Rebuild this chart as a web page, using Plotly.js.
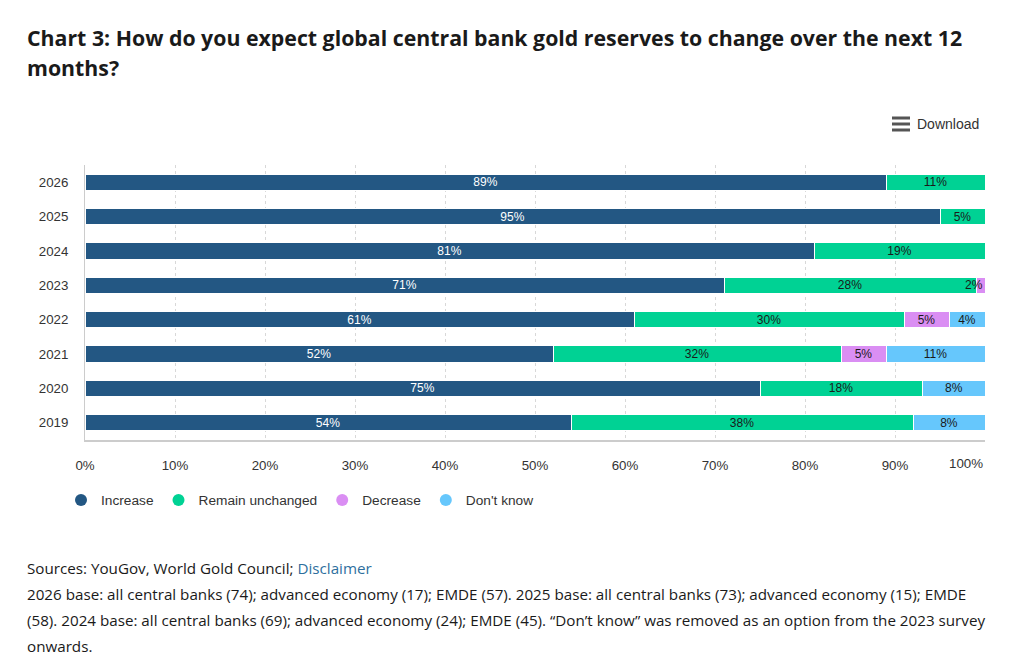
<!DOCTYPE html>
<html>
<head>
<meta charset="utf-8">
<script src="https://cdn.plot.ly/plotly-3.0.1.min.js"></script>
<style>
  html, body { margin: 0; padding: 0; background: #ffffff; }
  #chart { width: 1024px; height: 671px; }
</style>
</head>
<body>
<div id="chart"></div>
<script>
// ---- data ----
const years = ['2019', '2020', '2021', '2022', '2023', '2024', '2025', '2026'];
const increase = [54, 75, 52, 61, 71, 81, 95, 89];
const unchanged = [38, 18, 32, 30, 28, 19, 5, 11];
const decrease = [null, null, 5, 5, 2, null, null, null];
const dontKnow = [8, 8, 11, 4, null, null, null, null];
const seriesNames = ['Increase', 'Remain unchanged', 'Decrease', "Don't know"];
const seriesColors = ['#235783', '#00d294', '#da8ef3', '#66c7fc'];
const textColors = ['#ffffff', '#1a1a1a', '#1a1a1a', '#1a1a1a'];
const xTickVals = [0, 10, 20, 30, 40, 50, 60, 70, 80, 90, 100];
const xTickText = ['0%', '10%', '20%', '30%', '40%', '50%', '60%', '70%', '80%', '90%', '100%'];
const xMax = 100;

// ---- layout helpers (pixel -> paper) ----
const W = 1024, H = 671;
const M = { l: 85, r: 39, t: 165, b: 231 };
const PW = W - M.l - M.r, PH = H - M.t - M.b;
const px = x => (x - M.l) / PW;
const py = y => (H - M.b - y) / PH;

const labelFont = c => ({ family: 'Liberation Sans, Arial, sans-serif', size: 12, color: c });
const ann = [];
const allSeries = [increase, unchanged, decrease, dontKnow];
const running = years.map(() => 0);
const traces = allSeries.map((vals, i) => {
  const texts = vals.map((v, j) => {
    const start = running[j];
    const end = start + (v || 0);
    running[j] = end;
    if (!v) return '';
    if (end > xMax) {
      // segment is cut at the axis end: label the visible part
      const visEnd = Math.min(end, xMax);
      const narrow = (visEnd - start) < 3;
      ann.push({ xref: 'x', yref: 'y', x: narrow ? visEnd : (start + visEnd) / 2, y: j,
        xanchor: narrow ? 'right' : 'center', yanchor: 'middle', showarrow: false,
        text: v + '%', font: labelFont(textColors[i]) });
      return '';
    }
    return v + '%';
  });
  return {
    type: 'bar',
    orientation: 'h',
    y: years,
    x: vals,
    name: seriesNames[i],
    showlegend: false,
    marker: { color: seriesColors[i], line: { color: '#ffffff', width: 1 } },
    text: texts,
    textposition: 'inside',
    insidetextanchor: 'middle',
    textangle: 0,
    constraintext: 'none',
    textfont: labelFont(textColors[i]),
    hoverinfo: 'skip'
  };
});

// legend-only entries with round markers
seriesNames.forEach((n, i) => {
  traces.push({
    type: 'scatter', mode: 'markers', x: [null], y: [null], name: n,
    marker: { color: seriesColors[i], size: 12, symbol: 'circle' },
    showlegend: true, hoverinfo: 'skip'
  });
});

const titleFont = { family: 'Open Sans, sans-serif', size: 21.3, color: '#1a1a1a', weight: 700 };
ann.push({ xref: 'paper', yref: 'paper', x: px(25), y: py(38), xanchor: 'left', yanchor: 'middle', showarrow: false,
  text: '<b>Chart 3: How do you expect global central bank gold reserves to change over the next 12</b>', font: titleFont });
ann.push({ xref: 'paper', yref: 'paper', x: px(25), y: py(68), xanchor: 'left', yanchor: 'middle', showarrow: false,
  text: '<b>months?</b>', font: titleFont });
ann.push({ xref: 'paper', yref: 'paper', x: px(981), y: py(124), xanchor: 'right', yanchor: 'middle', showarrow: false,
  text: 'Download', font: { family: 'Liberation Sans, Arial, sans-serif', size: 14, color: '#333333' } });

const footFont = { family: 'Open Sans, sans-serif', size: 15.2, color: '#1a1a1a' };
const footLines = [
  'Sources: YouGov, World Gold Council; <span style="color:#2e6f9e">Disclaimer</span>',
  '2026 base: all central banks (74); advanced economy (17); EMDE (57). 2025 base: all central banks (73); advanced economy (15); EMDE',
  '(58). 2024 base: all central banks (69); advanced economy (24); EMDE (45). \u201cDon\u2019t know\u201d was removed as an option from the 2023 survey',
  'onwards.'
];
const footY = [568, 594, 620, 646];
footLines.forEach((t, i) => {
  ann.push({ xref: 'paper', yref: 'paper', x: px(25), y: py(footY[i]), xanchor: 'left', yanchor: 'middle',
    showarrow: false, text: t, font: footFont, align: 'left' });
});

// hamburger icon
const shapes = [118, 124, 130].map(yy => ({
  type: 'line', xref: 'paper', yref: 'paper', x0: px(892), x1: px(910), y0: py(yy), y1: py(yy),
  line: { color: '#555555', width: 3 }
}));

const tickFont = { family: 'Liberation Sans, Arial, sans-serif', size: 13.3, color: '#333333' };

// last x tick label is kept inside the chart edge (right-aligned), as in the reference
const lastTick = xTickVals.length - 1;
const axisTickText = xTickText.map((t, k) => (k === lastTick ? '' : t));
ann.push({ xref: 'x', yref: 'paper', x: xTickVals[lastTick], y: py(463), xanchor: 'right', yanchor: 'middle',
  showarrow: false, text: xTickText[lastTick], font: tickFont });

const layout = {
  width: W, height: H,
  margin: M,
  paper_bgcolor: '#ffffff', plot_bgcolor: '#ffffff',
  barmode: 'stack', bargap: 0.53,
  font: { family: 'Liberation Sans, Arial, sans-serif', size: 12, color: '#333333' },
  xaxis: {
    range: [0, xMax], tickvals: xTickVals, ticktext: axisTickText,
    showgrid: true, gridcolor: '#d8d8d8', griddash: 'dot', gridwidth: 1,
    zeroline: false, showline: true, linecolor: '#cccccc', linewidth: 2,
    ticks: '', ticklabelstandoff: 12,
    tickfont: tickFont,
    fixedrange: true
  },
  yaxis: {
    type: 'category', categoryorder: 'array', categoryarray: years,
    range: [-0.5, 7.5],
    showgrid: false, zeroline: false, showline: true, linecolor: '#cccccc', linewidth: 1,
    ticks: '', ticklabelstandoff: 13,
    tickfont: tickFont,
    fixedrange: true
  },
  legend: {
    orientation: 'h', x: px(61), y: py(500), xanchor: 'left', yanchor: 'middle',
    font: { family: 'Liberation Sans, Arial, sans-serif', size: 13.7, color: '#333333' },
    itemwidth: 30, traceorder: 'normal', bgcolor: 'rgba(0,0,0,0)'
  },
  uniformtext: { mode: 'show', minsize: 12 },
  annotations: ann,
  shapes: shapes,
  showlegend: true
};

Plotly.newPlot('chart', traces, layout, { displayModeBar: false, staticPlot: true });
</script>
</body>
</html>
